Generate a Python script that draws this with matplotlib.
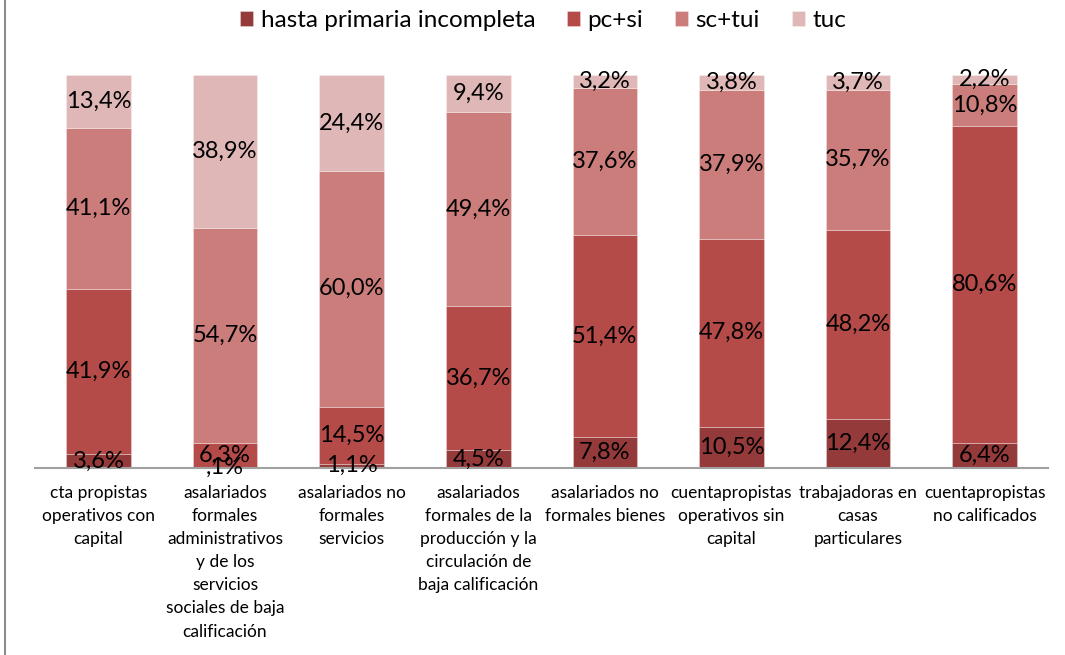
import matplotlib.pyplot as plt
import numpy as np

plt.rcParams['font.family'] = ['Lato', 'DejaVu Sans']

categorias = [
    "cta propistas\noperativos con\ncapital",
    "asalariados\nformales\nadministrativos\ny de los\nservicios\nsociales de baja\ncalificación",
    "asalariados no\nformales\nservicios",
    "asalariados\nformales de la\nproducción y la\ncirculación de\nbaja calificación",
    "asalariados no\nformales bienes",
    "cuentapropistas\noperativos sin\ncapital",
    "trabajadoras en\ncasas\nparticulares",
    "cuentapropistas\nno calificados",
]

series = ["hasta primaria incompleta", "pc+si", "sc+tui", "tuc"]
hasta_primaria = [3.6, 0.1, 1.1, 4.5, 7.8, 10.5, 12.4, 6.4]
pc_si = [41.9, 6.3, 14.5, 36.7, 51.4, 47.8, 48.2, 80.6]
sc_tui = [41.1, 54.7, 60.0, 49.4, 37.6, 37.9, 35.7, 10.8]
tuc = [13.4, 38.9, 24.4, 9.4, 3.2, 3.8, 3.7, 2.2]
colores = ["#953A3A", "#B44B48", "#CB7D7B", "#E0B7B7"]

valores = [hasta_primaria, pc_si, sc_tui, tuc]

fig = plt.figure(figsize=(10.65, 6.55), dpi=100)
ax = fig.add_axes([0.033, 0.2855, 0.951, 0.6])

x = np.arange(len(categorias))
base = np.zeros(len(categorias))
barras = []
for vals, col, nombre in zip(valores, colores, series):
    ax.bar(x, vals, 0.51, bottom=base, color=col, label=nombre,
           edgecolor=(1, 1, 1, 0.35), linewidth=0.6)
    barras.append((vals, base.copy()))
    base += np.array(vals)

# etiquetas de datos al final para que queden encima
for vals, bot in barras:
    for xi, v, b0 in zip(x, vals, bot):
        txt = f"{v:.1f}%".replace(".", ",")
        if txt.startswith("0,"):
            txt = txt[1:]
        ax.text(xi, b0 + v / 2, txt, ha="center", va="center",
                fontsize=17, color="black")

ax.set_xlim(-0.5, len(categorias) - 0.5)
ax.set_ylim(0, 100)
for s in ["top", "right", "left"]:
    ax.spines[s].set_visible(False)
ax.spines["bottom"].set_color("#A0A0A0")
ax.spines["bottom"].set_linewidth(1.5)
ax.set_yticks([])
ax.set_xticks(x)
ax.set_xticklabels(categorias, fontsize=12.5, linespacing=1.55)
ax.tick_params(axis="x", length=0, pad=12)

fig.legend(loc="center", bbox_to_anchor=(0.51, 0.969), ncol=4, frameon=False,
           fontsize=17.5, handlelength=0.55, handleheight=0.55,
           handletextpad=0.3, columnspacing=1.3)

# borde izquierdo del gráfico
fig.add_artist(plt.Line2D([0.0045, 0.0045], [0, 1], color="#8C8C8C", linewidth=1.5))

plt.savefig("out.png", dpi=100)
